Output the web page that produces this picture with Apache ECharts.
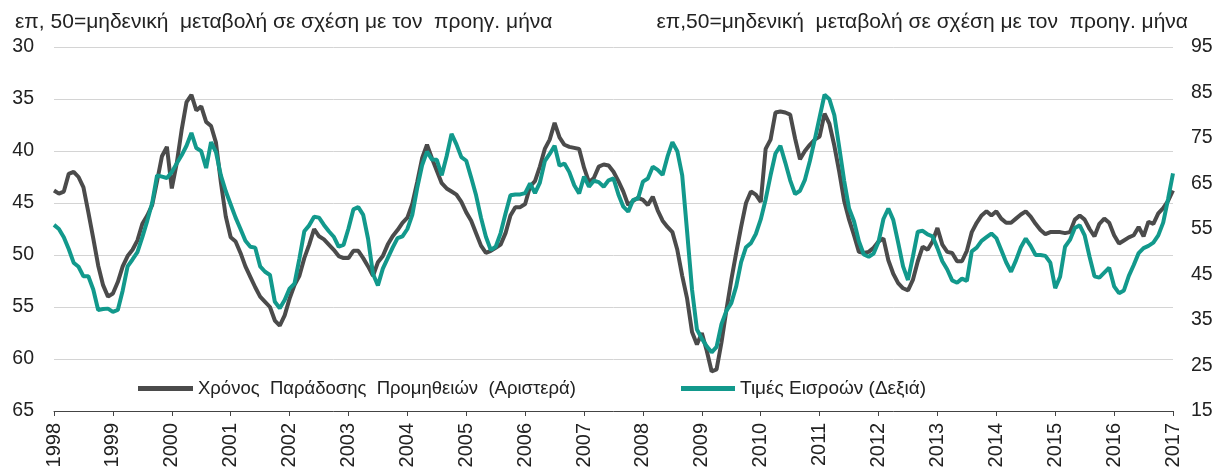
<!DOCTYPE html>
<html>
<head>
<meta charset="utf-8">
<script src="https://cdn.jsdelivr.net/npm/echarts@6/dist/echarts.min.js"></script>
<style>
html, body { margin: 0; padding: 0; background: #fff; }
#chart { width: 1227px; height: 475px; }
</style>
</head>
<body>
<div id="chart"></div>
<script>
// tick labels
const years = ['1998', '1999', '2000', '2001', '2002', '2003', '2004', '2005', '2006', '2007',
    '2008', '2009', '2010', '2011', '2012', '2013', '2014', '2015', '2016', '2017'];

// Χρόνος Παράδοσης Προμηθειών (αριστερός άξονας), μηνιαία από 1998-01 έως 2017-01
const deliveryTimes = [
    43.8, 44.1, 43.9, 42.2, 42.0, 42.5, 43.5, 45.9, 48.4, 51.0, 52.9, 54.0,
    53.7, 52.6, 51.1, 50.1, 49.5, 48.6, 47.0, 46.2, 45.2, 42.9, 40.5, 39.6,
    43.6, 41.2, 38.0, 35.3, 34.6, 36.1, 35.7, 37.2, 37.6, 39.2, 43.0, 46.3,
    48.3, 48.7, 49.8, 51.1, 52.1, 53.1, 54.0, 54.5, 55.0, 56.3, 56.8, 55.8,
    54.2, 52.9, 52.0, 50.3, 49.0, 47.5, 48.2, 48.5, 49.0, 49.5, 50.1, 50.3,
    50.3, 49.6, 49.6, 50.3, 51.1, 52.0, 50.7, 50.1, 49.0, 48.2, 47.6, 46.9,
    46.4, 45.1, 43.0, 40.7, 39.4, 40.7, 41.9, 43.1, 43.6, 43.9, 44.2, 44.9,
    45.9, 46.7, 47.9, 49.1, 49.8, 49.6, 49.3, 49.0, 47.9, 46.2, 45.4, 45.4,
    45.1, 43.4, 42.9, 41.5, 39.8, 38.9, 37.3, 38.7, 39.4, 39.6, 39.7, 39.8,
    41.6, 43.0, 42.6, 41.5, 41.3, 41.4, 42.0, 42.9, 43.9, 45.2, 44.8, 44.5,
    44.7, 45.2, 44.4, 45.7, 46.7, 47.3, 47.8, 49.5, 52.0, 54.2, 57.4, 58.6,
    57.5, 59.2, 61.2, 61.0, 58.4, 55.3, 52.4, 49.8, 47.3, 45.0, 43.9, 44.2,
    44.9, 39.8, 38.9, 36.3, 36.2, 36.3, 36.5, 38.8, 40.8, 40.0, 39.4, 38.9,
    38.6, 36.4, 37.4, 39.5, 42.0, 44.8, 46.6, 48.1, 49.7, 49.8, 49.7, 49.3,
    48.7, 48.4, 50.5, 51.8, 52.7, 53.2, 53.4, 52.4, 50.6, 49.2, 49.5, 48.7,
    47.4, 49.0, 49.7, 49.8, 50.6, 50.6, 49.6, 47.8, 46.9, 46.2, 45.8, 46.2,
    45.8, 46.5, 46.9, 46.9, 46.5, 46.1, 45.8, 46.3, 47.0, 47.6, 48.0, 47.8,
    47.8, 47.8, 47.9, 47.8, 46.6, 46.2, 46.6, 47.5, 48.2, 47.0, 46.5, 46.9,
    48.1, 48.9, 48.6, 48.3, 48.1, 47.3, 48.2, 46.8, 47.0, 46.0, 45.5, 44.8,
    43.8
];

// Τιμές Εισροών (δεξιός άξονας)
const inputPrices = [
    55.9, 55.0, 53.2, 50.6, 47.6, 46.7, 44.6, 44.6, 41.7, 37.2, 37.4, 37.5,
    36.8, 37.2, 41.5, 46.8, 48.3, 49.9, 53.2, 56.8, 60.7, 66.8, 66.5, 66.2,
    67.5, 69.4, 71.2, 73.3, 76.1, 72.8, 72.1, 68.4, 74.1, 71.9, 66.8, 63.3,
    60.4, 57.5, 55.0, 52.4, 51.1, 50.9, 46.8, 45.6, 44.9, 39.0, 37.6, 39.4,
    41.9, 43.0, 48.5, 54.5, 55.8, 57.7, 57.5, 55.9, 54.5, 53.3, 51.1, 51.5,
    55.1, 59.3, 59.8, 58.1, 52.8, 45.1, 42.6, 46.3, 48.6, 50.9, 53.0, 53.4,
    55.0, 58.1, 64.0, 69.0, 72.0, 70.3, 70.2, 66.8, 71.0, 75.9, 73.6, 70.8,
    70.0, 66.3, 62.4, 57.5, 53.3, 50.4, 51.1, 54.1, 58.4, 62.4, 62.6, 62.6,
    62.9, 65.0, 62.9, 65.2, 69.9, 71.5, 73.3, 68.9, 69.4, 67.5, 64.6, 62.8,
    66.5, 64.3, 65.6, 65.3, 64.3, 65.7, 66.1, 62.6, 59.9, 58.8, 61.4, 61.7,
    65.4, 66.1, 68.7, 68.0, 66.9, 70.9, 74.1, 72.1, 66.8, 54.4, 41.7, 32.9,
    30.9, 29.2, 27.9, 29.1, 34.1, 37.0, 38.7, 42.4, 47.7, 51.0, 51.9, 53.9,
    57.1, 61.5, 66.8, 71.6, 73.3, 69.6, 65.7, 62.7, 63.4, 65.8, 69.9, 74.6,
    79.6, 84.5, 83.5, 80.0, 72.9, 65.6, 59.5, 56.7, 52.3, 49.4, 48.9, 49.6,
    52.2, 57.2, 59.5, 57.0, 52.0, 46.8, 43.8, 48.9, 54.4, 54.6, 53.8, 53.4,
    50.8, 47.9, 46.1, 43.7, 43.2, 44.1, 43.6, 50.1, 50.9, 52.4, 53.2, 54.0,
    53.0, 50.4, 47.7, 45.6, 48.1, 51.0, 52.9, 51.3, 49.3, 49.3, 49.1, 47.6,
    42.0, 44.5, 51.1, 52.6, 55.2, 55.8, 53.6, 48.9, 44.6, 44.3, 45.4, 46.5,
    42.4, 40.9, 41.5, 44.7, 47.1, 49.7, 50.8, 51.3, 52.0, 53.6, 56.4, 61.6,
    67.2
];

const unitText = 'επ, 50=μηδενική  μεταβολή σε σχέση με τον  προηγ. μήνα';
const unitTextRight = 'επ,50=μηδενική  μεταβολή σε σχέση με τον  προηγ. μήνα';
const nameLeft = 'Χρόνος  Παράδοσης  Προμηθειών  (Αριστερά)';
const nameRight = 'Τιμές Εισροών (Δεξιά)';

// monthly categories
const months = [];
years.forEach(function (y, k) {
    const last = k === years.length - 1;
    for (let m = 1; m <= (last ? 1 : 12); m++) {
        months.push(y + '-' + (m < 10 ? '0' + m : m));
    }
});

const FONT = '"Liberation Sans", Arial, sans-serif';
const GREY = '#4b4b4b';
const TEAL = '#12998c';
const isJan = function (idx) { return idx % 12 === 0; };

const chart = echarts.init(document.getElementById('chart'));

const option = {
    animation: false,
    backgroundColor: '#fff',
    textStyle: { fontFamily: FONT },
    title: [
        {
            text: unitText,
            left: 10, top: 7,
            textStyle: { fontSize: 21, fontWeight: 'normal', color: '#222', fontFamily: FONT }
        },
        {
            text: unitTextRight,
            right: 34, top: 7,
            textStyle: { fontSize: 21, fontWeight: 'normal', color: '#222', fontFamily: FONT }
        }
    ],
    legend: [
        {
            data: [nameLeft],
            left: 135, top: 376,
            icon: 'rect', itemWidth: 55, itemHeight: 5, padding: [3, 3],
            textStyle: { fontSize: 18.5, color: '#222', fontFamily: FONT }
        },
        {
            data: [nameRight],
            left: 678, top: 376,
            icon: 'rect', itemWidth: 54, itemHeight: 5, padding: [3, 3],
            textStyle: { fontSize: 19, color: '#222', fontFamily: FONT }
        }
    ],
    grid: {
        left: 54,
        right: 54,
        top: 47,
        bottom: 64,
        containLabel: false
    },
    xAxis: {
        type: 'category',
        data: months,
        boundaryGap: false,
        axisLine: { lineStyle: { color: '#444', width: 1 } },
        axisTick: {
            interval: isJan,
            length: 5,
            lineStyle: { color: '#444' }
        },
        axisLabel: {
            interval: isJan,
            rotate: 90,
            fontSize: 20,
            color: '#222',
            margin: 12,
            formatter: function (v) { return v.slice(0, 4); }
        },
        splitLine: { show: false }
    },
    yAxis: [
        {
            type: 'value',
            inverse: true,
            min: 30,
            max: 65,
            interval: 5,
            axisLine: { show: false },
            axisTick: { show: false },
            axisLabel: { fontSize: 19.5, color: '#222', margin: 20 },
            splitLine: { lineStyle: { color: '#d4d4d4', width: 1 } }
        },
        {
            type: 'value',
            min: 15,
            max: 95,
            interval: 10,
            axisLine: { show: false },
            axisTick: { show: false },
            axisLabel: { fontSize: 19.5, color: '#222', margin: 18 },
            splitLine: { show: false }
        }
    ],
    series: [
        {
            name: nameLeft,
            type: 'line',
            yAxisIndex: 0,
            data: deliveryTimes,
            showSymbol: false,
            color: GREY,
            lineStyle: { color: GREY, width: 4 }
        },
        {
            name: nameRight,
            type: 'line',
            yAxisIndex: 1,
            data: inputPrices,
            showSymbol: false,
            color: TEAL,
            lineStyle: { color: TEAL, width: 4 }
        }
    ]
};

chart.setOption(option);
window.addEventListener('resize', function () { chart.resize(); });
</script>
</body>
</html>
